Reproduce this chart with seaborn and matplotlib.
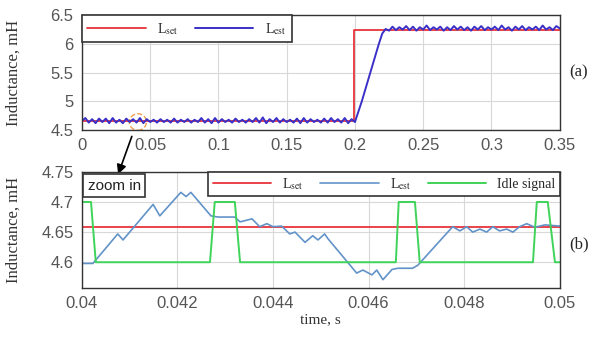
import numpy as np
import pandas as pd
import matplotlib
matplotlib.use('Agg')
import matplotlib.pyplot as plt
from matplotlib.patches import Ellipse
import seaborn as sns

sns.set_style('whitegrid')
plt.rcParams['font.family'] = ['Liberation Sans', 'DejaVu Sans']
plt.rcParams['mathtext.fontset'] = 'stix'

# -------------------------------------------
# data: (a) full run
# -------------------------------------------
t_step = 0.0025
L_est_low = [4.66, 4.71, 4.63, 4.69, 4.62, 4.70, 4.64, 4.70, 4.62, 4.71, 4.63, 4.68, 4.62, 4.70, 4.64, 4.69, 4.63, 4.71, 4.62, 4.69,
             4.64, 4.68, 4.63, 4.69, 4.64, 4.68, 4.63, 4.70, 4.63, 4.68, 4.64, 4.69, 4.63, 4.68, 4.64, 4.71, 4.63, 4.69, 4.62, 4.71,
             4.63, 4.69, 4.64, 4.68, 4.63, 4.70, 4.64, 4.68, 4.63, 4.69, 4.64, 4.71, 4.63, 4.72, 4.62, 4.69, 4.64, 4.71, 4.63, 4.69,
             4.64, 4.68, 4.63, 4.70, 4.62, 4.71, 4.63, 4.69, 4.64, 4.68, 4.63, 4.70, 4.63, 4.71, 4.64, 4.69, 4.63, 4.71, 4.62, 4.69,
             4.64]
L_est_ramp = [4.82, 5.00, 5.20, 5.40, 5.60, 5.80, 6.00, 6.18, 6.26]
L_est_high = [6.23, 6.30, 6.24, 6.29, 6.25, 6.31, 6.24, 6.30, 6.23, 6.29, 6.25, 6.32, 6.24, 6.29, 6.25, 6.30, 6.23, 6.29, 6.24, 6.31,
              6.25, 6.30, 6.24, 6.29, 6.23, 6.30, 6.25, 6.31, 6.24, 6.29, 6.25, 6.30, 6.24, 6.32, 6.25, 6.29, 6.23, 6.30, 6.25, 6.31,
              6.24, 6.29, 6.25, 6.30, 6.24, 6.32, 6.25, 6.29, 6.24, 6.31, 6.27]
L_est_a = L_est_low + L_est_ramp + L_est_high
t_a = np.arange(len(L_est_a)) * t_step

t_set_a = [0.0, 0.199, 0.199, 0.35]
L_set_a = [4.66, 4.66, 6.25, 6.25]

xticks_a = [0, 0.05, 0.1, 0.15, 0.2, 0.25, 0.3, 0.35]
xlabels_a = ['0', '0.05', '0.1', '0.15', '0.2', '0.25', '0.3', '0.35']
yticks_a = [4.5, 5, 5.5, 6, 6.5]
ylabels_a = ['4.5', '5', '5.5', '6', '6.5']

# -------------------------------------------
# data: (b) zoomed window
# -------------------------------------------
t_est_b = [0.04000, 0.04023, 0.04075, 0.04086, 0.04149, 0.04163, 0.04207, 0.04218, 0.04228, 0.04270,
           0.04285, 0.04320, 0.04331, 0.04356, 0.04372, 0.04387, 0.04400, 0.04418, 0.04435, 0.04446,
           0.04467, 0.04483, 0.04494, 0.04508, 0.04515, 0.04575, 0.04588, 0.04607, 0.04617, 0.04630,
           0.04649, 0.04661, 0.04692, 0.04703, 0.04776, 0.04791, 0.04805, 0.04818, 0.04833, 0.04847,
           0.04860, 0.04874, 0.04889, 0.04902, 0.04916, 0.04931, 0.04948, 0.04969, 0.05000]
L_est_b = [4.598, 4.598, 4.647, 4.637, 4.696, 4.677, 4.716, 4.709, 4.716, 4.677,
           4.675, 4.675, 4.667, 4.672, 4.659, 4.664, 4.659, 4.660, 4.647, 4.650,
           4.633, 4.644, 4.637, 4.647, 4.639, 4.582, 4.587, 4.579, 4.587, 4.571,
           4.588, 4.590, 4.590, 4.595, 4.659, 4.652, 4.659, 4.650, 4.655, 4.650,
           4.659, 4.652, 4.655, 4.650, 4.659, 4.664, 4.658, 4.662, 4.660]

t_set_b = [0.04, 0.05]
L_set_b = [4.658, 4.658]

t_idle = [0.04000, 0.04019, 0.04029, 0.04268, 0.04278, 0.04320, 0.04331, 0.04657, 0.04663, 0.04697,
          0.04707, 0.04944, 0.04952, 0.04975, 0.04990, 0.05000]
idle = [4.70, 4.70, 4.60, 4.60, 4.70, 4.70, 4.60, 4.60, 4.70, 4.70,
        4.60, 4.60, 4.70, 4.70, 4.60, 4.60]

xticks_b = [0.04, 0.042, 0.044, 0.046, 0.048, 0.05]
xlabels_b = ['0.04', '0.042', '0.044', '0.046', '0.048', '0.05']
yticks_b = [4.6, 4.65, 4.7, 4.75]
ylabels_b = ['4.6', '4.65', '4.7', '4.75']

# colours
c_set = '#e8333c'
c_est_a = '#3a30c8'
c_est_b = '#6293c8'
c_idle = '#3fd35a'

serif = ['Liberation Serif', 'DejaVu Serif']

fig = plt.figure(figsize=(5.98, 3.37), dpi=100)
ax1 = fig.add_axes([0.137, 0.614, 0.799, 0.341])
ax2 = fig.add_axes([0.137, 0.145, 0.799, 0.345])

df_a = pd.DataFrame({'t': t_a, 'L': L_est_a})
sns.lineplot(x=t_set_a, y=L_set_a, ax=ax1, color=c_set, lw=1.3, label=r'L$_{\mathrm{set}}$', estimator=None, sort=False)
sns.lineplot(data=df_a, x='t', y='L', ax=ax1, color=c_est_a, lw=1.4, label=r'L$_{\mathrm{est}}$', estimator=None, sort=False)

sns.lineplot(x=t_set_b, y=L_set_b, ax=ax2, color=c_set, lw=1.3, label=r'L$_{\mathrm{set}}$', estimator=None, sort=False)
sns.lineplot(x=t_est_b, y=L_est_b, ax=ax2, color=c_est_b, lw=1.2, label=r'L$_{\mathrm{est}}$', estimator=None, sort=False)
sns.lineplot(x=t_idle, y=idle, ax=ax2, color=c_idle, lw=1.4, label='Idle signal', estimator=None, sort=False)

for ax, xt, xl, yt, yl in [(ax1, xticks_a, xlabels_a, yticks_a, ylabels_a),
                           (ax2, xticks_b, xlabels_b, yticks_b, ylabels_b)]:
    ax.set_xticks(xt)
    ax.set_xticklabels(xl)
    ax.set_yticks(yt)
    ax.set_yticklabels(yl)
    ax.tick_params(direction='in', length=3, labelsize=12, labelcolor='#555555', color='#333333', pad=6)
    ax.grid(True, color='#d8d8d8', lw=0.8)
    for s in ax.spines.values():
        s.set_color('#333333')
        s.set_linewidth(1.0)
    ax.set_ylabel('Inductance, mH', family=serif, fontsize=12, color='#333333')
    ax.set_xlabel('')

ax1.set_xlim(0, 0.35)
ax1.set_ylim(4.5, 6.5)
ax2.set_xlim(0.04, 0.05)
ax2.set_ylim(4.557, 4.75)
ax1.yaxis.set_label_coords(-0.127, 0.5)
ax2.yaxis.set_label_coords(-0.127, 0.5)
ax2.set_xlabel('time, s', family=serif, fontsize=11, color='#333333', labelpad=1)

leg1 = ax1.legend(loc='upper left', ncol=2, borderaxespad=0, handlelength=4.2, columnspacing=1.2,
                  fancybox=False, framealpha=1, edgecolor='#333333', prop={'family': serif, 'size': 10})
leg1.get_frame().set_linewidth(1.2)
leg2 = ax2.legend(loc='upper right', ncol=3, borderaxespad=0, handlelength=4.2, columnspacing=1.2,
                  fancybox=False, framealpha=1, edgecolor='#333333', prop={'family': serif, 'size': 10},
                  borderpad=0.3)
leg2.get_frame().set_linewidth(1.2)

ax1.text(1.02, 0.5, '(a)', transform=ax1.transAxes, family=serif, fontsize=12, va='center', ha='left')
ax2.text(1.02, 0.38, '(b)', transform=ax2.transAxes, family=serif, fontsize=12, va='center', ha='left')

ax2.text(0.012, 0.94, 'zoom in', transform=ax2.transAxes, fontsize=11, color='#222222', va='top', ha='left',
         bbox=dict(boxstyle='square,pad=0.3', facecolor='white', edgecolor='#333333', lw=1.2))

circ = Ellipse((0.041, 4.64), 0.0125, 0.29, fill=False, edgecolor='#f0a050', lw=1.0, ls='--', clip_on=False)
ax1.add_patch(circ)
ax1.annotate('', xy=(0.196, 0.475), xycoords='figure fraction', xytext=(0.222, 0.603),
             textcoords='figure fraction',
             arrowprops=dict(arrowstyle='-|>', color='black', lw=1.2, mutation_scale=14))

fig.savefig('out.png', dpi=100)
